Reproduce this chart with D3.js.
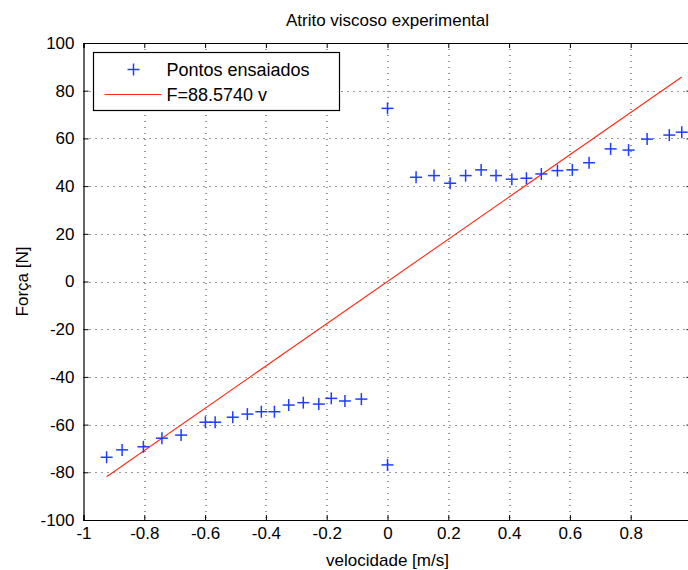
<!DOCTYPE html>
<html>
<head>
<meta charset="utf-8">
<script src="https://cdn.jsdelivr.net/npm/d3@7"></script>
<style>
  body { margin: 0; background: #fff; }
  text { font-family: "Liberation Sans", Arial, sans-serif; fill: #000; }
</style>
</head>
<body>
<div id="chart"></div>
<script>
// pontos ensaiados (velocidade [m/s], força [N])
const velocidade = [-0.924, -0.873, -0.803, -0.742, -0.679, -0.599, -0.567, -0.509, -0.461, -0.415,
  -0.372, -0.325, -0.277, -0.226, -0.185, -0.140, -0.086, 0.0, 0.0,
  0.094, 0.153, 0.206, 0.257, 0.308, 0.357, 0.409, 0.457, 0.506, 0.559,
  0.608, 0.663, 0.734, 0.793, 0.854, 0.927, 0.968];
const forca = [-73.7, -70.6, -69.3, -65.7, -64.4, -59.0, -59.0, -56.9, -55.6, -54.6,
  -54.6, -51.8, -50.8, -51.4, -49.0, -50.1, -49.3, -76.9, 72.6,
  43.7, 44.4, 41.2, 44.4, 46.8, 44.4, 42.9, 43.3, 45.1, 46.5,
  46.8, 49.8, 55.6, 55.1, 59.7, 61.4, 62.6];
const coef = 88.5740;

const xTicks = [-1, -0.8, -0.6, -0.4, -0.2, 0, 0.2, 0.4, 0.6, 0.8];
const yTicks = [-100, -80, -60, -40, -20, 0, 20, 40, 60, 80, 100];

const W = 688, H = 570;
const margin = { top: 43, right: -3.5, bottom: 50, left: 83.5 },
      width  = W - margin.left - margin.right,
      height = H - margin.top - margin.bottom;
const fs = "17px";

const svg = d3.select("#chart").append("svg")
    .attr("width", W).attr("height", H)
  .append("g")
    .attr("transform", `translate(${margin.left},${margin.top})`);

const x = d3.scaleLinear().domain([-1, 1]).range([0, width]);
const y = d3.scaleLinear().domain([-100, 100]).range([height, 0]);

// grade pontilhada
const grid = svg.append("g").attr("class", "grid")
  .attr("stroke", "#333").attr("stroke-width", 1).attr("stroke-dasharray", "1,5");
grid.selectAll(".gx").data(xTicks.filter(d => d > -1)).enter().append("line")
  .attr("x1", d => Math.round(x(d)) + 0.5).attr("x2", d => Math.round(x(d)) + 0.5)
  .attr("y1", 0).attr("y2", height);
grid.selectAll(".gy").data(yTicks.filter(d => d > -100 && d < 100)).enter().append("line")
  .attr("y1", d => Math.round(y(d)) + 0.5).attr("y2", d => Math.round(y(d)) + 0.5)
  .attr("x1", 0).attr("x2", width);

// eixos (ticks para dentro)
const tick = 5;
const axB = svg.append("g").attr("transform", `translate(0,${height})`)
  .call(d3.axisBottom(x).tickValues(xTicks).tickSize(-tick).tickPadding(7)
    .tickFormat(d => String(d)));
const axT = svg.append("g")
  .call(d3.axisTop(x).tickValues(xTicks).tickSize(-tick).tickFormat(""));
const axL = svg.append("g")
  .call(d3.axisLeft(y).tickValues(yTicks).tickSize(-tick).tickPadding(9)
    .tickFormat(d => String(d)));
const axR = svg.append("g").attr("transform", `translate(${width},0)`)
  .call(d3.axisRight(y).tickValues(yTicks).tickSize(-tick).tickFormat(""));

[axB, axT, axL, axR].forEach(a => {
  a.selectAll("path.domain").attr("stroke", "#000").attr("stroke-width", 1.2);
  a.selectAll(".tick line").attr("stroke", "#000");
  a.selectAll("text").style("font-size", fs).attr("fill", "#000");
});

// reta ajustada
const xs = d3.extent(velocidade);
const line = d3.line().x(d => x(d)).y(d => y(coef * d));
svg.append("path")
  .datum(xs)
  .attr("fill", "none")
  .attr("stroke", "#ff2a10")
  .attr("stroke-width", 1.1)
  .attr("d", line);

// marcadores +
const plus = 6;
const pts = svg.append("g").attr("stroke", "#1f3dff").attr("stroke-width", 1.5);
velocidade.forEach((v, i) => {
  const cx = x(v), cy = y(forca[i]);
  pts.append("line").attr("x1", cx - plus).attr("x2", cx + plus).attr("y1", cy).attr("y2", cy);
  pts.append("line").attr("x1", cx).attr("x2", cx).attr("y1", cy - plus).attr("y2", cy + plus);
});

// legenda
const leg = svg.append("g").attr("transform", `translate(${93.5 - margin.left},${52.5 - margin.top})`);
leg.append("rect").attr("width", 246).attr("height", 58)
  .attr("fill", "#fff").attr("stroke", "#000").attr("stroke-width", 1.2);
const lp = leg.append("g").attr("stroke", "#1f3dff").attr("stroke-width", 1.5);
lp.append("line").attr("x1", 34).attr("x2", 46).attr("y1", 17).attr("y2", 17);
lp.append("line").attr("x1", 40).attr("x2", 40).attr("y1", 11).attr("y2", 23);
leg.append("line").attr("x1", 11).attr("x2", 68).attr("y1", 42).attr("y2", 42)
  .attr("stroke", "#ff2a10").attr("stroke-width", 1.1);
leg.append("text").attr("x", 73).attr("y", 23).style("font-size", "18px").text("Pontos ensaiados");
leg.append("text").attr("x", 73).attr("y", 48).style("font-size", "18px").text("F=88.5740 v");

// títulos
svg.append("text")
  .attr("x", x(0)).attr("y", -17)
  .attr("text-anchor", "middle").style("font-size", fs)
  .text("Atrito viscoso experimental");
svg.append("text")
  .attr("x", x(0)).attr("y", height + 46)
  .attr("text-anchor", "middle").style("font-size", fs)
  .text("velocidade [m/s]");
svg.append("text")
  .attr("transform", "rotate(-90)")
  .attr("x", -y(0)).attr("y", -margin.left + 28)
  .attr("text-anchor", "middle").style("font-size", fs)
  .text("Força [N]");
</script>
</body>
</html>
